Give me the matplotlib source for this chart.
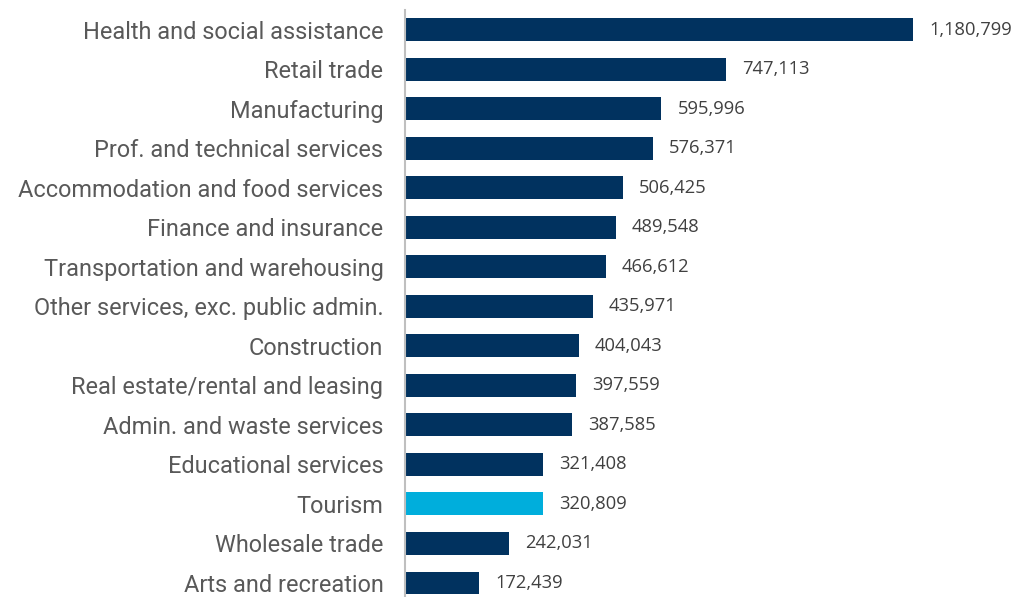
import matplotlib
matplotlib.use("Agg")
import matplotlib.pyplot as plt

categories = [
    "Health and social assistance",
    "Retail trade",
    "Manufacturing",
    "Prof. and technical services",
    "Accommodation and food services",
    "Finance and insurance",
    "Transportation and warehousing",
    "Other services, exc. public admin.",
    "Construction",
    "Real estate/rental and leasing",
    "Admin. and waste services",
    "Educational services",
    "Tourism",
    "Wholesale trade",
    "Arts and recreation",
]
values = [1180799, 747113, 595996, 576371, 506425, 489548, 466612, 435971,
          404043, 397559, 387585, 321408, 320809, 242031, 172439]
highlight = "Tourism"

navy = "#01325F"
sky = "#00AEDC"
colors = [sky if c == highlight else navy for c in categories]

W, H = 1014, 597
fig = plt.figure(figsize=(W / 100, H / 100), dpi=100)
left_px, right_px, top_px = 405, 1004, 9.75
ax = fig.add_axes([left_px / W, 0, (right_px - left_px) / W, 1 - top_px / H])

pos = list(range(len(categories)))
ax.barh(pos, values, height=0.58, color=colors)

px_per_unit = 508 / 1180799
ax.set_xlim(0, (right_px - left_px) / px_per_unit)
ax.set_ylim(14.354, -0.5)

for p, v in zip(pos, values):
    ax.annotate(f"{v:,}", xy=(v, p), xytext=(16, 0), textcoords="offset pixels",
                va="center", ha="left", fontsize=13.2, color="#404040",
                family="Open Sans")

ax.set_yticks(pos)
ax.set_yticklabels(categories, fontsize=16.9, color="#595959", family="Roboto")
ax.tick_params(axis="y", length=0, pad=15.5)
ax.set_xticks([])
for s in ["top", "right", "bottom"]:
    ax.spines[s].set_visible(False)
ax.spines["left"].set_color("#BFBFBF")
ax.spines["left"].set_linewidth(1.5)

fig.savefig("out.png", dpi=100)
